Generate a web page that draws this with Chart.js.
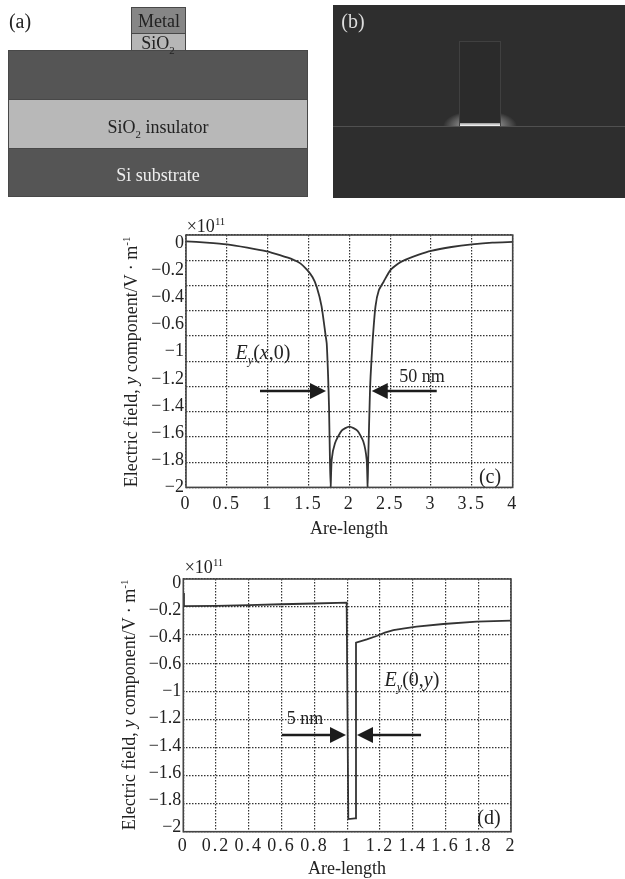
<!DOCTYPE html>
<html><head><meta charset="utf-8">
<script src="https://cdn.jsdelivr.net/npm/chart.js@4"></script>
<style>
html,body{margin:0;padding:0;background:#fff;}
body{width:625px;height:879px;position:relative;overflow:hidden;font-family:"Liberation Serif",serif;color:#222;}
#page{position:absolute;left:0;top:0;width:625px;height:879px;filter:blur(0.35px);}
.b{position:absolute;box-sizing:border-box;border:1px solid #484848;}
.t{position:absolute;white-space:nowrap;font-size:18px;line-height:18px;transform:translate(-50%,-50%);}
.l{font-size:20px;}
canvas{position:absolute;}
sub,sup{font-size:60%;line-height:0;}
i{font-style:italic;}
</style></head><body><div id="page">
<div class="b" style="left:131px;top:7px;width:55px;height:27px;background:#868686"></div>
<div class="b" style="left:131px;top:33px;width:55px;height:18px;background:#b6b6b6"></div>
<div class="b" style="left:8px;top:50px;width:300px;height:50px;background:#555"></div>
<div class="b" style="left:8px;top:99px;width:300px;height:50px;background:#b8b8b8"></div>
<div class="b" style="left:8px;top:148px;width:300px;height:49px;background:#555"></div>
<div class="t" style="left:159px;top:21px;">Metal</div>
<div class="t" style="left:158px;top:43px;">SiO<sub>2</sub></div>
<div class="t" style="left:158px;top:127px;">SiO<sub>2</sub> insulator</div>
<div class="t" style="left:158px;top:175px;color:#eee;">Si substrate</div>
<div class="t l" style="left:20px;top:21px;">(a)</div>

<div style="position:absolute;left:333px;top:5px;width:292px;height:193px;background:#2e2e2e;overflow:hidden;">
  <div style="position:absolute;left:110px;top:105px;width:74px;height:32px;border-radius:50%;background:radial-gradient(closest-side,#c0c0c0 0%,#808080 55%,#2e2e2e 100%);clip-path:inset(0 0 16px 0);"></div>
  <div style="position:absolute;left:126px;top:36px;width:42px;height:85px;box-sizing:border-box;border:1px solid #404040;background:#2b2b2b;"></div>
  <div style="position:absolute;left:0;top:121px;width:292px;height:1px;background:#505050;"></div>
  <div style="position:absolute;left:127px;top:118px;width:40px;height:3px;background:linear-gradient(#999,#fff);"></div>
</div>
<div class="t l" style="left:353px;top:21px;color:#ddd;">(b)</div>

<canvas id="c" width="420" height="330" style="left:110px;top:210px;width:420px;height:330px"></canvas>
<canvas id="d" width="420" height="329" style="left:110px;top:550px;width:420px;height:329px"></canvas>

<div class="t" style="left:206px;top:226px;">×10<sup>11</sup></div>
<div class="t" style="left:131px;top:362px;transform:translate(-50%,-50%) rotate(-90deg);">Electric field, <i>y</i> component/V · m<sup>-1</sup></div>
<div class="t" style="left:349px;top:528px;">Are-length</div>
<div class="t l" style="left:263px;top:352px;"><i>E</i><sub><i>y</i></sub>(<i>x</i>,0)</div>
<div class="t" style="left:422px;top:376px;">50 nm</div>
<div class="t l" style="left:490px;top:476px;">(c)</div>

<div class="t" style="left:204px;top:567px;">×10<sup>11</sup></div>
<div class="t" style="left:129px;top:705px;transform:translate(-50%,-50%) rotate(-90deg);">Electric field, <i>y</i> component/V · m<sup>-1</sup></div>
<div class="t" style="left:347px;top:868px;">Are-length</div>
<div class="t l" style="left:412px;top:679px;"><i>E</i><sub><i>y</i></sub>(0,<i>y</i>)</div>
<div class="t" style="left:305px;top:718px;">5 nm</div>
<div class="t l" style="left:489px;top:817px;">(d)</div>
</div>
<script>
const yTickLabels = ['0','−0.2','−0.4','−0.6','−1','−1.2','−1.4','−1.6','−1.8','−2'];

const cXTicks = [0,0.5,1,1.5,2,2.5,3,3.5,4];
const cXTickLabels = ['0','0.5','1','1.5','2','2.5','3','3.5','4'];
const cGridLines = [0,-0.2,-0.4,-0.6,-0.8,-1,-1.2,-1.4,-1.6,-1.8,-2];
const cArc = [0,0.25,0.5,0.75,0.99,1.15,1.31,1.40,1.48,1.55,1.60,1.66,1.71,1.723,1.74,1.751,1.763,1.771,1.784,1.824,1.906,2,2.098,2.171,2.212,2.224,2.23,2.253,2.26,2.286,2.32,2.36,2.42,2.5,2.6,2.69,2.85,3,3.25,3.5,3.75,4];
const cField = [-0.05,-0.06,-0.074,-0.1,-0.13,-0.16,-0.195,-0.225,-0.275,-0.335,-0.41,-0.565,-0.8,-0.86,-1.12,-1.36,-1.8,-2,-1.78,-1.65,-1.55,-1.518,-1.55,-1.637,-1.78,-2,-1.8,-1.228,-1.12,-0.83,-0.565,-0.44,-0.37,-0.28,-0.225,-0.195,-0.155,-0.125,-0.095,-0.074,-0.06,-0.055];
const cArrowsX = [[0.906,1.714],[3.07,2.274]];
const cArrowY = -1.236;

const dXTicks = [0,0.2,0.4,0.6,0.8,1,1.2,1.4,1.6,1.8,2];
const dXTickLabels = ['0','0.2','0.4','0.6','0.8','1','1.2','1.4','1.6','1.8','2'];
const dGridLines = [0,-0.222,-0.444,-0.667,-0.889,-1.111,-1.333,-1.556,-1.778,-2];
const dArc = [0,0.004,0.2,0.4,0.6,0.8,0.997,1.007,1.048,1.054,1.12,1.18,1.23,1.282,1.35,1.424,1.587,1.79,2];
const dField = [-0.11,-0.214,-0.212,-0.207,-0.2,-0.194,-0.187,-1.9,-1.895,-0.504,-0.478,-0.451,-0.425,-0.404,-0.39,-0.377,-0.356,-0.338,-0.33];
const dArrowsX = [[0.602,0.993],[1.451,1.06]];
const dArrowY = -1.235;

const INK = '#333';
const FONT = {family:'"Liberation Serif"', size:18};

const framePlugin = {
  id:'frame',
  afterDatasetsDraw(chart,_a,o){
    const {ctx,chartArea:a,scales:{x,y}} = chart;
    ctx.save();
    ctx.strokeStyle = '#444'; ctx.lineWidth = 1.6;
    ctx.strokeRect(a.left,a.top,a.width,a.height);
    ctx.fillStyle = ctx.strokeStyle = '#1c1c1c';
    const py = y.getPixelForValue(o.arrowY);
    for (const [from,to] of o.arrows){
      const p0 = x.getPixelForValue(from), p1 = x.getPixelForValue(to);
      const dir = Math.sign(p1-p0);
      ctx.lineWidth = 2.4;
      ctx.beginPath(); ctx.moveTo(p0,py); ctx.lineTo(p1-dir*15,py); ctx.stroke();
      ctx.beginPath(); ctx.moveTo(p1,py); ctx.lineTo(p1-dir*16,py-8); ctx.lineTo(p1-dir*16,py+8); ctx.closePath(); ctx.fill();
    }
    ctx.restore();
  }
};

function noPad(s){ s.paddingLeft=s.paddingRight=s.paddingTop=s.paddingBottom=0; }

function build(id,arc,field,xTicks,xLabels,gridLines,arrows,arrowY,box,labMin,labMax,tension){
  new Chart(document.getElementById(id),{
    type:'scatter',
    data:{datasets:[{data:arc.map((v,i)=>({x:v,y:field[i]})),showLine:true,borderColor:INK,borderWidth:1.8,pointRadius:0,tension}]},
    plugins:[framePlugin],
    options:{
      responsive:false,animation:false,
      layout:{padding:{left:0,bottom:0,top:box.top,right:box.right}},
      plugins:{legend:{display:false},tooltip:{enabled:false},frame:{arrows,arrowY}},
      scales:{
        x:{type:'linear',min:xTicks[0],max:xTicks[xTicks.length-1],position:'bottom',
          afterBuildTicks(s){s.ticks=xTicks.map(v=>({value:v}));},
          afterFit(s){
            s.height=box.bottom;noPad(s);
            if(!s._spaced){s._spaced=true;const dl=s.drawLabels;s.drawLabels=function(a){const c=this.ctx;c.letterSpacing='2px';dl.call(this,a);c.letterSpacing='0px';};}
          },
          grid:{color:'#333',lineWidth:1.2,drawTicks:false},
          border:{display:false,dash:[1.5,1.5]},
          ticks:{font:FONT,color:'#222',padding:box.xPad,maxRotation:0,autoSkip:false,callback:(v)=>xLabels[xTicks.indexOf(v)]}},
        y:{type:'linear',min:-2,max:0,position:'left',
          afterBuildTicks(s){s.ticks=gridLines.map(v=>({value:v}));},
          afterFit(s){s.width=0;noPad(s);},
          grid:{color:'#333',lineWidth:1.2,drawTicks:false},
          border:{display:false,dash:[1.5,1.5]},
          ticks:{display:false}},
        yLab:{type:'linear',min:labMin,max:labMax,reverse:true,position:'left',
          afterBuildTicks(s){s.ticks=yTickLabels.map((_,i)=>({value:i}));},
          afterFit(s){s.width=box.left;noPad(s);},
          grid:{display:false,drawTicks:false},border:{display:false},
          ticks:{font:FONT,color:'#222',padding:2,autoSkip:false,callback:(v)=>yTickLabels[v]}}
      }
    }
  });
}
build('c',cArc,cField,cXTicks,cXTickLabels,cGridLines,cArrowsX,cArrowY,{left:76,right:17.3,top:25,bottom:52.6,xPad:6},-0.3,9.0,0.2);
build('d',dArc,dField,dXTicks,dXTickLabels,dGridLines,dArrowsX,dArrowY,{left:73.3,right:19,top:29,bottom:47.3,xPad:4},-0.16,9.17,0);
</script>
</body></html>
